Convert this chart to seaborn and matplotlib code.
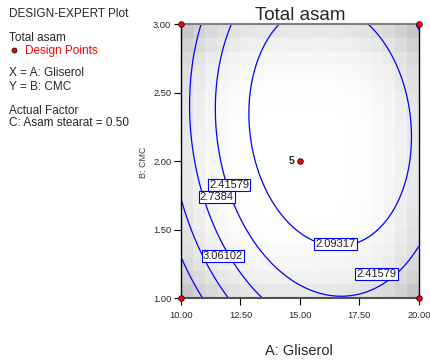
import numpy as np
import seaborn as sns
import matplotlib.pyplot as plt

# response model (coded units)
b0, bA, bB, bAA, bBB, bAB = 1.8501, -0.3833, -0.2458, 0.6997, 0.4188, 0.1041
levels = [2.09317, 2.41579, 2.7384, 3.06102, 3.38363]

# contour labels shown on the plot
lab_text = ['2.41579', '2.7384', '3.06102', '2.09317', '2.41579']
lab_A = [12.02, 11.50, 11.77, 16.50, 18.22]
lab_B = [1.825, 1.737, 1.31, 1.395, 1.175]

# design points at C = 0.50
dp_A = [10, 10, 20, 20, 15]
dp_B = [1, 3, 1, 3, 2]

sns.set_style('white')
plt.rcParams['font.family'] = ['Liberation Sans', 'DejaVu Sans']

fig = plt.figure(figsize=(4.3, 3.6), dpi=100)
ax = fig.add_axes([0.421, 0.172, 0.553, 0.761])

# grey background (prediction error style shading, blocky)
ga = np.linspace(10, 20, 21)
gb = np.linspace(1, 3, 21)
ca = (ga[:-1] + ga[1:]) / 2
cb = (gb[:-1] + gb[1:]) / 2
CA, CB = np.meshgrid(ca, cb)
u = (CA - 15) / 5
v = CB - 2
shade = 0.11 * (u**4 + v**4) + 0.05 * u**2 * v**2
ax.pcolormesh(ga, gb, 1 - shade, cmap='gray', vmin=0, vmax=1, shading='flat')

A, B = np.meshgrid(np.linspace(10, 20, 300), np.linspace(1, 3, 300))
u = (A - 15) / 5
v = B - 2
Z = b0 + bA*u + bB*v + bAA*u**2 + bBB*v**2 + bAB*u*v
ax.contour(A, B, Z, levels=levels, colors='#0000ff', linewidths=0.9)

for t, a, b in zip(lab_text, lab_A, lab_B):
    ax.text(a, b, t, fontsize=8, ha='center', va='center', color='#202020',
            bbox=dict(boxstyle='square,pad=0.1', fc='white', ec='#0000ff', lw=0.8))

sns.scatterplot(x=dp_A, y=dp_B, ax=ax, color='red', edgecolor='#300000',
                linewidth=0.6, s=16, clip_on=False, zorder=5, legend=False)
ax.text(14.78, 2.0, '5', fontsize=7.5, fontweight='bold', ha='right', va='center')

ax.set_xlim(10, 20)
ax.set_ylim(1, 3)
ax.set_xticks([10, 12.5, 15, 17.5, 20])
ax.set_yticks([1, 1.5, 2, 2.5, 3])
ax.set_xticklabels(['10.00', '12.50', '15.00', '17.50', '20.00'])
ax.set_yticklabels(['1.00', '1.50', '2.00', '2.50', '3.00'])
ax.tick_params(direction='out', length=5, width=0.8, color='black',
               labelsize=6.7, pad=2, bottom=True, left=True)
ax.tick_params(axis='x', pad=4)
ax.spines['left'].set_color('black')
ax.spines['right'].set_color('black')
ax.spines['top'].set_color('#808080')
ax.spines['bottom'].set_color('#505050')
for s in ['left', 'right']:
    ax.spines[s].set_linewidth(1.0)
for s in ['top', 'bottom']:
    ax.spines[s].set_linewidth(1.5)

ax.set_title('Total asam', fontsize=13.5, pad=3)
fig.text(299/430, 1 - 351/360, 'A: Gliserol', fontsize=10.5, ha='center', va='center')
fig.text(143/430, 1 - 162/360, 'B: CMC', fontsize=6.5, ha='center', va='center',
         rotation=90, color='#404040')

# left side info block
info = 8.5
fig.text(0.022, 1 - 14/360, 'DESIGN-EXPERT Plot', fontsize=info, va='center')
fig.text(0.022, 1 - 38.3/360, 'Total asam', fontsize=info, va='center')
fig.text(0.058, 1 - 50.7/360, 'Design Points', fontsize=info, va='center', color='red')
fig.text(0.022, 1 - 73.3/360, 'X = A: Gliserol', fontsize=info, va='center')
fig.text(0.022, 1 - 87.3/360, 'Y = B: CMC', fontsize=info, va='center')
fig.text(0.022, 1 - 111/360, 'Actual Factor', fontsize=info, va='center')
fig.text(0.022, 1 - 123.3/360, 'C: Asam stearat = 0.50', fontsize=info, va='center')
fig.add_artist(plt.Line2D([13.5/430], [1 - 49.5/360], marker='o', markersize=3.5,
                          markerfacecolor='red', markeredgecolor='black',
                          markeredgewidth=0.6, transform=fig.transFigure))

fig.savefig('out.png')
